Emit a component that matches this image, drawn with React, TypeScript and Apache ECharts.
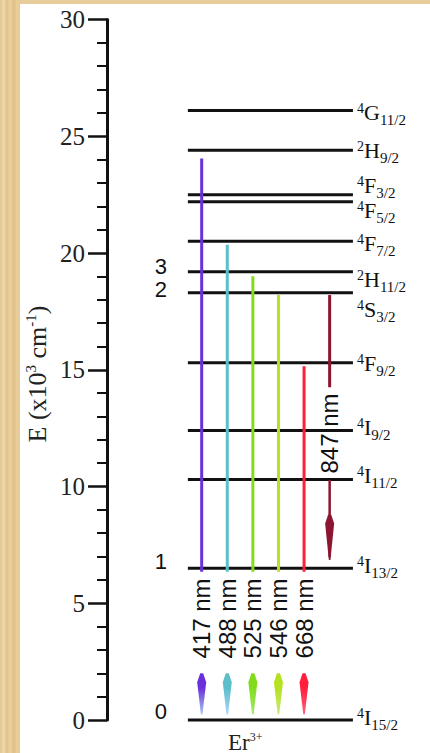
import React, { useEffect, useRef } from 'react';
import * as echarts from 'echarts';

// ---- data ----
const levelSup = ['4', '2', '4', '4', '4', '2', '4', '4', '4', '4', '4', '4'];
const levelLetter = ['G', 'H', 'F', 'F', 'F', 'H', 'S', 'F', 'I', 'I', 'I', 'I'];
const levelSub = ['11/2', '9/2', '3/2', '5/2', '7/2', '11/2', '3/2', '9/2', '9/2', '11/2', '13/2', '15/2'];
const levelEnergy = [26.1, 24.4, 22.5, 22.2, 20.5, 19.2, 18.3, 15.3, 12.4, 10.3, 6.5, 0];
const levelState = ['', '', '', '', '', '3', '2', '', '', '', '1', '0'];

const transLabel = ['417 nm', '488 nm', '525 nm', '546 nm', '668 nm', '847 nm'];
const transColumn = [1, 2, 3, 4, 5, 6];
const transUpper = [24.05, 20.35, 19.0, 18.2, 15.15, 18.2];
const transGapTop = [6.35, 6.35, 6.35, 6.35, 6.35, 14.25];
const transLabelAt = [4.35, 4.35, 4.35, 4.35, 4.35, 12.27];
const transGapBottom = [2.0, 2.0, 2.0, 2.0, 2.0, 10.28];
const transHeadTop = [2.0, 2.0, 2.0, 2.0, 2.0, 8.8];
const transTip = [0.25, 0.25, 0.25, 0.25, 0.25, 6.85];

const yTicks = [0, 5, 10, 15, 20, 25, 30];

// ---- styles / layout ----
const transColor = ['#6b30da', '#5cbfca', '#82dc1c', '#b5e21f', '#ff1e3c', '#8c1631'];
const transTipColor = ['#a3c8f0', '#a9d6f6', '#a6e86e', '#c6ec76', '#ff6080', '#8c1631'];
const levelLabelDy = [2, 0, -9.5, 9, 2, 8, 17, 1, -3, -4, -3, -3];
const levelStateDy = [0, 0, 0, 0, 0, -4.7, -2.7, 0, 0, 0, -7, -9];
const LEVEL_X0 = 0.46;
const LEVEL_X1 = 6.91;
const LABEL_X = 7.07;
const STATE_X = -0.59;
const SERIF = 'Liberation Serif';
const SANS = 'Liberation Sans';
const INK = '#111';

export default function App() {
  const ref = useRef<HTMLDivElement>(null);
  useEffect(() => {
    document.body.style.margin = '0';
    const chart = echarts.init(ref.current!, null, { renderer: 'svg', width: 430, height: 753 });

    const option: any = {
      animation: false,
      backgroundColor: 'transparent',
      grid: { left: 107, right: 20, top: 19.5, bottom: 33, containLabel: false },
      xAxis: { type: 'value', min: -2.7, max: 9.14, show: false },
      yAxis: {
        type: 'value',
        min: yTicks[0],
        max: yTicks[yTicks.length - 1],
        interval: 5,
        axisLine: { show: true, onZero: false, lineStyle: { color: INK, width: 3 } },
        axisTick: { show: true, length: 19, lineStyle: { color: INK, width: 2.5 } },
        minorTick: { show: true, splitNumber: 5, length: 10, lineStyle: { color: INK, width: 2 } },
        splitLine: { show: false },
        axisLabel: { fontFamily: SERIF, fontSize: 25, color: '#222', margin: 22 },
      },
      graphic: {
        elements: [
          { type: 'rect', z: -100, silent: true, shape: { x: 0, y: 0, width: 430, height: 753 }, style: { fill: '#e8cd9c' } },
          {
            type: 'rect', z: -99, silent: true, shape: { x: 0, y: 0, width: 20, height: 753 },
            style: {
              fill: new echarts.graphic.LinearGradient(0, 0, 1, 0, [
                { offset: 0, color: '#e4c58e' }, { offset: 0.2, color: '#eed8ad' },
                { offset: 0.35, color: '#e0c088' }, { offset: 0.5, color: '#ecd3a2' },
                { offset: 0.7, color: '#dfbe85' }, { offset: 0.85, color: '#ebd09c' },
                { offset: 1, color: '#e6c995' },
              ]),
            },
          },
          { type: 'rect', z: -98, silent: true, shape: { x: 20, y: 4, width: 410, height: 749 }, style: { fill: '#ffffff' } },
          {
            type: 'text', x: 37, y: 374, rotation: Math.PI / 2, z: 10,
            style: {
              text: '{t|E (x10}{s|3}{t| cm}{s|-1}{t|)}',
              align: 'center', verticalAlign: 'middle',
              rich: {
                t: { fontFamily: SERIF, fontSize: 26, lineHeight: 28, fill: '#222' },
                s: { fontFamily: SERIF, fontSize: 15, lineHeight: 16, height: 16, verticalAlign: 'top', fill: '#222' },
              },
            },
          },
          {
            type: 'text', x: 228, y: 742, z: 10,
            style: {
              text: '{t|Er}{s|3+}',
              align: 'left', verticalAlign: 'middle',
              rich: {
                t: { fontFamily: SERIF, fontSize: 23, lineHeight: 22, fill: '#222' },
                s: { fontFamily: SERIF, fontSize: 12, lineHeight: 12, height: 12, verticalAlign: 'top', fill: '#222' },
              },
            },
          },
        ],
      },
      series: [
        {
          type: 'custom',
          name: 'levels',
          clip: false,
          encode: { x: 0, y: 1 },
          data: levelEnergy.map((e) => [LEVEL_X0, e]),
          renderItem: (params: any, api: any) => {
            const i = params.dataIndex;
            const e = api.value(1);
            const p0 = api.coord([LEVEL_X0, e]);
            const p1 = api.coord([LEVEL_X1, e]);
            const pl = api.coord([LABEL_X, e]);
            const children: any[] = [
              { type: 'line', shape: { x1: p0[0], y1: p0[1], x2: p1[0], y2: p1[1] }, style: { stroke: INK, lineWidth: 3 } },
              {
                type: 'text', x: pl[0], y: pl[1] + levelLabelDy[i],
                style: {
                  text: `{sup|${levelSup[i]}}{main|${levelLetter[i]}}{sub|${levelSub[i]}}`,
                  align: 'left', verticalAlign: 'middle',
                  rich: {
                    sup: { fontFamily: SERIF, fontSize: 14, lineHeight: 12, height: 12, verticalAlign: 'top', fill: INK },
                    main: { fontFamily: SERIF, fontSize: 22, lineHeight: 20, fill: INK },
                    sub: { fontFamily: SERIF, fontSize: 15, lineHeight: 5, height: 5, verticalAlign: 'bottom', fill: INK },
                  },
                },
              },
            ];
            if (levelState[i]) {
              const ps = api.coord([STATE_X, e]);
              children.push({
                type: 'text', x: ps[0], y: ps[1] + levelStateDy[i],
                style: { text: levelState[i], fontFamily: SANS, fontSize: 22, lineHeight: 18, fill: INK, align: 'center', verticalAlign: 'middle' },
              });
            }
            return { type: 'group', children };
          },
          z: 3,
        },
        {
          type: 'custom',
          name: 'transitions',
          clip: false,
          encode: { x: 0, y: 1 },
          data: transLabel.map((_, i) => [
            transColumn[i], transUpper[i], transGapTop[i], transLabelAt[i],
            transGapBottom[i], transHeadTop[i], transTip[i],
          ]),
          renderItem: (params: any, api: any) => {
            const i = params.dataIndex;
            const col = api.value(0);
            const at = (v: number) => api.coord([col, v]);
            const [x, yUp] = at(api.value(1));
            const yGapTop = at(api.value(2))[1];
            const yLab = at(api.value(3))[1];
            const yGapBot = at(api.value(4))[1];
            const yHead = at(api.value(5))[1];
            const yTip = at(api.value(6))[1];
            const color = transColor[i];
            const children: any[] = [
              { type: 'line', shape: { x1: x, y1: yUp, x2: x, y2: yGapTop }, style: { stroke: color, lineWidth: 3 } },
            ];
            if (yHead - yGapBot > 1) {
              children.push({ type: 'line', shape: { x1: x, y1: yGapBot, x2: x, y2: yTip - 3 }, style: { stroke: color, lineWidth: 2.5 } });
            }
            children.push({
              type: 'polygon',
              shape: {
                points: [
                  [x - 1.5, yHead], [x + 1.5, yHead], [x + 4.5, yHead + 9],
                  [x + 0.8, yTip], [x - 0.8, yTip], [x - 4.5, yHead + 9],
                ],
              },
              style: {
                fill: new echarts.graphic.LinearGradient(0, 0, 0, 1, [
                  { offset: 0, color },
                  { offset: 0.35, color },
                  { offset: 1, color: transTipColor[i] },
                ]),
              },
            });
            children.push({
              type: 'text', x, y: yLab, rotation: Math.PI / 2,
              style: { text: transLabel[i], fontFamily: SANS, fontSize: 24, lineHeight: 20, fill: INK, align: 'center', verticalAlign: 'middle' },
            });
            return { type: 'group', children };
          },
          z: 4,
        },
      ],
    };
    chart.setOption(option);
    return () => chart.dispose();
  }, []);
  return <div ref={ref} style={{ width: 430, height: 753 }} />;
}
